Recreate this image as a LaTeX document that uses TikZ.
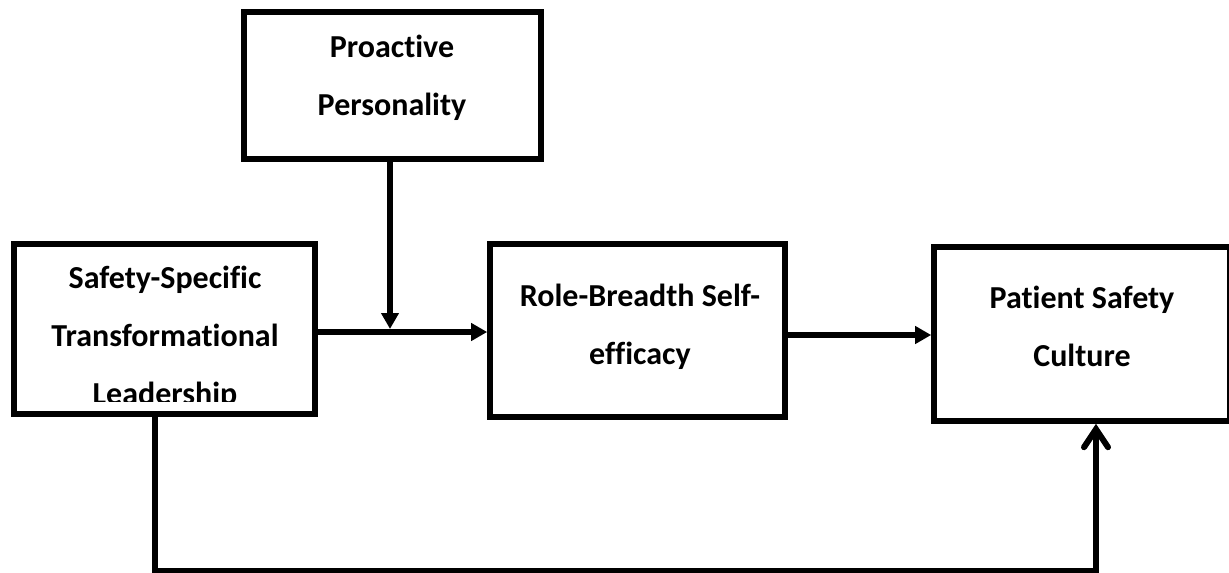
\documentclass[tikz,border=0pt]{standalone}
\usepackage{fontspec}
\setmainfont{Carlito}[Ligatures=NoCommon]
\usetikzlibrary{arrows.meta}
\tikzstyle{box} = [draw=black, line width=2.8pt, rectangle, inner sep=0pt]
\tikzstyle{txt} = [align=center, anchor=north, inner sep=0pt, font={\bfseries\fontsize{16}{29}\selectfont}]
\tikzstyle{link} = [line width=3pt, -{Triangle[length=8pt,width=8.5pt]}]
\tikzstyle{back} = [line width=3pt, -{Straight Barb[length=9pt,width=12pt,line cap=round]}]

\begin{document}
\begin{tikzpicture}[x=0.5pt,y=-0.5pt]
        \useasboundingbox (0,0) rectangle (1229,572);
        \node[box,minimum width=150.5pt,minimum height=85pt](sst) at (164.5,329){};
        \node[box,minimum width=148.5pt,minimum height=73.5pt](pp) at (392.5,85.5){};
        \node[box,minimum width=147.5pt,minimum height=86.5pt](rbse) at (637.5,330.5){};
        \node[box,minimum width=148pt,minimum height=87pt](psc) at (1082,334){};
        \begin{scope}
          \clip (18,248) rectangle (311,401);
          \node[txt](sstlabel) at (165,266){Safety-Specific\\Transformational\\Leadership};
        \end{scope}
        \node[txt](pplabel) at (392,35){Proactive\\Personality};
        \node[txt](rbselabel) at (640,284){Role-Breadth Self-\\efficacy};
        \node[txt](psclabel) at (1082,286){Patient Safety\\Culture};
        \coordinate (mod) at (390,329);
        \coordinate (sstout) at (155,571);
        \coordinate (pscin) at (1096,571);
        \draw[link](sst.east |- 0,332)--(rbse.west |- 0,332);
        \draw[link](mod |- pp.south)--(mod);
        \draw[link](rbse.east |- 0,335)--(psc.west |- 0,335);
        \draw[back](sstout |- sst.south)--(sstout)--(pscin)--(pscin |- psc.south);
      \end{tikzpicture}
\end{document}
